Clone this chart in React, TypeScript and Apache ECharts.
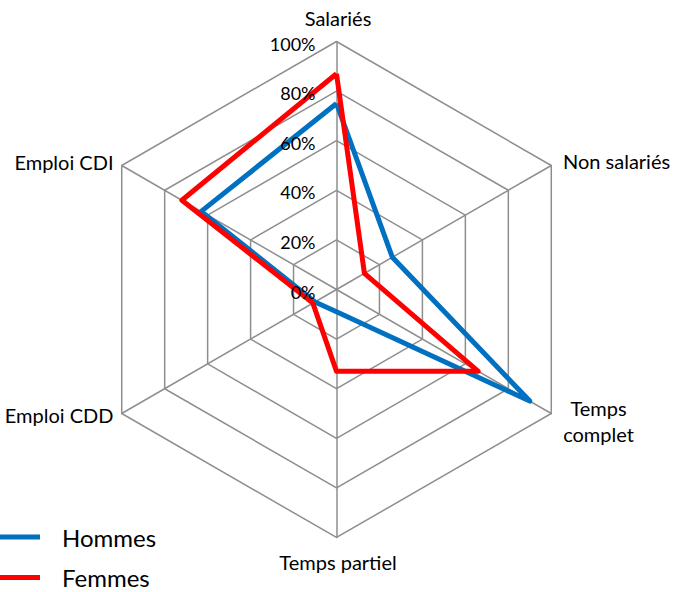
import React, { useEffect, useRef } from "react";
import * as echarts from "echarts";

const indicatorNames = ["Salariés", "Emploi CDI", "Emploi CDD", "Temps partiel", "Temps complet", "Non salariés"];
const hommesValues = [75, 63, 10, 9, 90, 26];
const femmesValues = [87, 72, 11, 33, 66, 13];
const tickValues = [0, 20, 40, 60, 80, 100];
const seriesNames = ["Hommes", "Femmes"];

const CX = 336.5;
const CY = 289.5;
const R = 248;
const FONT = "Lato, 'Open Sans', sans-serif";
const GRID = "#8e8e8e";

export default function App() {
  const ref = useRef<HTMLDivElement>(null);
  useEffect(() => {
    if (!ref.current) return;
    const chart = echarts.init(ref.current, undefined, { renderer: "svg" });

    const tickTexts = tickValues.map((v) => ({
      type: "text",
      x: CX - 21,
      y: CY - (R * v) / 100 + 2,
      z: 100,
      style: {
        text: v + "%",
        fill: "#000",
        fontSize: 18,
        fontFamily: FONT,
        textAlign: "right",
        textVerticalAlign: "middle",
        align: "right",
        verticalAlign: "middle",
      },
    }));

    const nameLabels = [
      { text: indicatorNames[0], x: 338, y: 18, a: "center" },
      { text: indicatorNames[5], x: 563, y: 161, a: "left" },
      { text: "Temps\ncomplet", x: 598.5, y: 421, a: "center" },
      { text: indicatorNames[3], x: 338, y: 562, a: "center" },
      { text: indicatorNames[2], x: 113.5, y: 415, a: "right" },
      { text: indicatorNames[1], x: 113.5, y: 161.5, a: "right" },
    ].map((l) => ({
      type: "text",
      x: l.x,
      y: l.y,
      z: 100,
      style: {
        text: l.text,
        fill: "#000",
        fontSize: 20,
        lineHeight: 26,
        fontFamily: FONT,
        textAlign: l.a,
        textVerticalAlign: "middle",
        align: l.a,
        verticalAlign: "middle",
      },
    }));

    chart.setOption({
      animation: false,
      backgroundColor: "#fff",
      legend: {
        data: [
          { name: seriesNames[0], textStyle: { padding: [0, 0, 12, 17] } },
          { name: seriesNames[1] },
        ],
        orient: "vertical",
        left: 0,
        top: 517,
        padding: 0,
        icon: "rect",
        itemWidth: 40,
        itemHeight: 5,
        itemGap: 6.4,
        textStyle: {
          fontSize: 24,
          lineHeight: 28,
          fontFamily: FONT,
          color: "#000",
          padding: [0, 0, 0, 17],
        },
      },
      radar: {
        center: [CX, CY],
        radius: R,
        startAngle: 90,
        shape: "polygon",
        splitNumber: 5,
        indicator: indicatorNames.map((n) => ({ name: n, min: 0, max: 100 })),
        axisName: { show: false },
        splitLine: { lineStyle: { color: GRID, width: 1.5 } },
        splitArea: { show: false },
        axisLine: { lineStyle: { color: GRID, width: 1.5 } },
        axisTick: { show: false },
        axisLabel: { show: false },
      },
      graphic: [...tickTexts, ...nameLabels],
      series: [
        {
          name: seriesNames[0],
          type: "radar",
          symbol: "none",
          itemStyle: { color: "#0070C0" },
          lineStyle: { color: "#0070C0", width: 5 },
          data: [{ value: hommesValues, name: seriesNames[0] }],
        },
        {
          name: seriesNames[1],
          type: "radar",
          symbol: "none",
          itemStyle: { color: "#FF0000" },
          lineStyle: { color: "#FF0000", width: 5 },
          data: [{ value: femmesValues, name: seriesNames[1] }],
        },
      ],
    });
    return () => chart.dispose();
  }, []);
  return (
    <div
      ref={ref}
      style={{ position: "fixed", left: 0, top: 0, width: 677, height: 592, background: "#fff" }}
    />
  );
}
